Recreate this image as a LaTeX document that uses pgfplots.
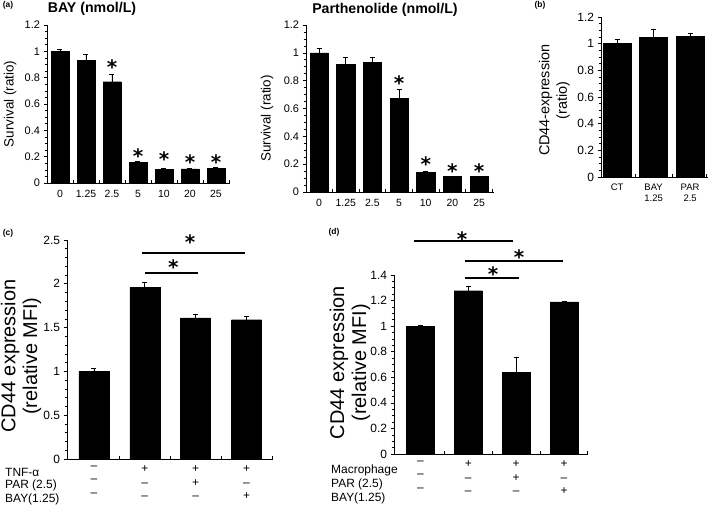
\documentclass[border=0pt]{standalone}
\usepackage{fontspec}
\setmainfont{Liberation Sans}
\newfontfamily\starfont{DejaVu Sans}
\usepackage{pgfplots}
\pgfplotsset{compat=1.18}
\pgfplotsset{
  panel/.style={scale only axis, anchor=south west, axis lines=left,
    axis line style={-, line width=0.7bp}, ybar, ymin=0, enlargelimits=false, clip=false,
    tick align=outside, major tick length=3.5bp, minor tick length=2.5bp,
    every tick/.style={line width=0.6bp, black},
    major x tick style={draw=none}, minor x tick style={yshift=2.5bp},
    /pgf/number format/assume math mode=true,
    ylabel style={align=center, anchor=center}},
  ebar/.style={fill=black, draw=black, error bars/.cd, y dir=plus, y explicit,
    error bar style={line width=0.7bp, black},
    error mark options={rotate=90, mark size=2.5bp, line width=0.7bp, black}},
}
\tikzset{sstar/.style={font=\fontsize{20}{20}\starfont\bfseries, inner sep=0pt, anchor=center, yshift=-4bp}}
\begin{document}
\begin{tikzpicture}[x=1bp,y=1bp]
\useasboundingbox (0,0) rectangle (709,509);

% ---------- (a) BAY ----------
\begin{axis}[panel, at={(47bp,326bp)}, width=183bp, height=158bp,
  xmin=-0.5, xmax=6.54, ymax=1.2, bar width=0.69,
  xtick={0,1,2,3,4,5,6}, xticklabels={0,1.25,2.5,5,10,20,25},
  minor xtick={0.5,1.5,2.5,3.5,4.5,5.5,6.5},
  ytick={0,0.2,0.4,0.6,0.8,1,1.2}, minor y tick num=3,
  yticklabel style={font=\fontsize{11}{13}\selectfont},
  xticklabel style={font=\fontsize{10.5}{12}\selectfont},
  ylabel={Survival (ratio)},
  ylabel style={at={(axis description cs:-0.202,0.5)}, font=\fontsize{13.5}{16}\selectfont}]
\addplot[ebar] coordinates {(0,1.0) +- (0,0.013) (1,0.934) +- (0,0.043) (2,0.769) +- (0,0.056)
  (3,0.155) +- (0,0.008) (4,0.104) +- (0,0.004) (5,0.107) +- (0,0.004) (6,0.109) +- (0,0.008)};
\node[sstar] at (axis cs:2,0.91) {*};
\node[sstar] at (axis cs:3,0.235) {*};
\node[sstar] at (axis cs:4,0.21) {*};
\node[sstar] at (axis cs:5,0.19) {*};
\node[sstar] at (axis cs:6,0.19) {*};
\end{axis}

% ---------- (a) Parthenolide ----------
\begin{axis}[panel, at={(306bp,317bp)}, width=188bp, height=167bp,
  xmin=-0.49, xmax=6.56, ymax=1.2, bar width=0.68,
  xtick={0,1,2,3,4,5,6}, xticklabels={0,1.25,2.5,5,10,20,25},
  minor xtick={0.5,1.5,2.5,3.5,4.5,5.5,6.5},
  ytick={0,0.2,0.4,0.6,0.8,1,1.2}, minor y tick num=3,
  yticklabel style={font=\fontsize{11}{13}\selectfont},
  xticklabel style={font=\fontsize{10.5}{12}\selectfont},
  ylabel={Survival (ratio)},
  ylabel style={at={(axis description cs:-0.207,0.44)}, font=\fontsize{13.5}{16}\selectfont}]
\addplot[ebar] coordinates {(0,1.0) +- (0,0.033) (1,0.918) +- (0,0.05) (2,0.932) +- (0,0.036)
  (3,0.674) +- (0,0.065) (4,0.141) +- (0,0.007) (5,0.112) +- (0,0.002) (6,0.112) +- (0,0.002)};
\node[sstar] at (axis cs:3,0.81) {*};
\node[sstar] at (axis cs:4,0.23) {*};
\node[sstar] at (axis cs:5,0.18) {*};
\node[sstar] at (axis cs:6,0.18) {*};
\end{axis}

% ---------- (b) ----------
\begin{axis}[panel, at={(601bp,332bp)}, width=107bp, height=160bp,
  xmin=-0.44, xmax=2.49, ymax=1.2, bar width=0.77,
  xtick={0,1,2}, xticklabels={{CT},{BAY\\1.25},{PAR\\2.5}},
  minor xtick={0.5,1.5,2.45},
  ytick={0,0.2,0.4,0.6,0.8,1,1.2}, minor y tick num=3,
  yticklabel style={font=\fontsize{12}{14}\selectfont},
  xticklabel style={align=center, font=\fontsize{9.5}{11}\selectfont},
  ylabel={CD44-expression\\(ratio)},
  ylabel style={at={(axis description cs:-0.435,0.48)}, font=\fontsize{14.5}{17.5}\selectfont}]
\addplot[ebar] coordinates {(0,1.0) +- (0,0.03) (1,1.045) +- (0,0.06) (2,1.055) +- (0,0.02)};
\end{axis}

% ---------- (c) ----------
\begin{axis}[panel, at={(67bp,50bp)}, width=206bp, height=219bp,
  xmin=-0.53, xmax=3.52, ymax=2.5, bar width=0.59,
  xtick={0,1,2,3}, xticklabels={{–\\–\\–},{+\\–\\–},{+\\+\\–},{+\\–\\+}},
  minor xtick={0.5,1.5,2.5,3.5},
  ytick={0,0.5,1,1.5,2,2.5}, minor y tick num=4,
  yticklabel style={font=\fontsize{12}{14}\selectfont},
  xticklabel style={align=center, font=\fontsize{12}{13.5}\selectfont},
  ylabel={CD44 expression\\(relative MFI)},
  ylabel style={at={(axis description cs:-0.223,0.47)}, font=\fontsize{20}{22}\selectfont}]
\addplot[ebar] coordinates {(0,1.0) +- (0,0.035) (1,1.96) +- (0,0.06) (2,1.61) +- (0,0.04) (3,1.59) +- (0,0.035)};
\draw[line width=1.6bp] (axis cs:1.0,2.12) -- (axis cs:2.05,2.12);
\draw[line width=1.6bp] (axis cs:0.95,2.35) -- (axis cs:2.97,2.35);
\node[sstar] at (axis cs:1.56,2.24) {*};
\node[sstar] at (axis cs:1.89,2.52) {*};
\end{axis}

% ---------- (d) ----------
\begin{axis}[panel, at={(394bp,55bp)}, width=194bp, height=179bp,
  xmin=-0.55, xmax=3.5, ymax=1.4, bar width=0.585,
  xtick={0,1,2,3}, xticklabels={{–\\–\\–},{+\\–\\–},{+\\+\\–},{+\\–\\+}},
  minor xtick={0.5,1.5,2.5,3.48},
  ytick={0,0.2,0.4,0.6,0.8,1,1.2,1.4}, minor y tick num=3,
  yticklabel style={font=\fontsize{12}{14}\selectfont},
  xticklabel style={align=center, font=\fontsize{12}{13.5}\selectfont},
  ylabel={CD44 expression\\(relative MFI)},
  ylabel style={at={(axis description cs:-0.227,0.51)}, font=\fontsize{20}{22}\selectfont}]
\addplot[ebar] coordinates {(0,1.0) +- (0,0.01) (1,1.277) +- (0,0.033) (2,0.64) +- (0,0.113) (3,1.19) +- (0,0.007)};
\draw[line width=1.6bp] (axis cs:0.93,1.376) -- (axis cs:2.06,1.376);
\draw[line width=1.6bp] (axis cs:0.93,1.51) -- (axis cs:2.98,1.51);
\draw[line width=1.6bp] (axis cs:-0.14,1.665) -- (axis cs:1.94,1.665);
\node[sstar] at (axis cs:1.52,1.44) {*};
\node[sstar] at (axis cs:2.06,1.57) {*};
\node[sstar] at (axis cs:0.87,1.71) {*};
\end{axis}

% ---------- titles and panel letters ----------
\node[font=\fontsize{14.2}{16}\selectfont\bfseries] at (92,500) {BAY (nmol/L)};
\node[font=\fontsize{14.2}{16}\selectfont\bfseries] at (385,499) {Parthenolide (nmol/L)};
\node[font=\fontsize{8.5}{10}\selectfont\bfseries] at (8,504) {(a)};
\node[font=\fontsize{8.5}{10}\selectfont\bfseries] at (540,504) {(b)};
\node[font=\fontsize{8.5}{10}\selectfont\bfseries] at (8,276) {(c)};
\node[font=\fontsize{8.5}{10}\selectfont\bfseries] at (334,277) {(d)};

% ---------- row labels ----------
\node[anchor=west, inner sep=0pt, font=\fontsize{12}{14}\selectfont] at (5,37) {TNF-α};
\node[anchor=west, inner sep=0pt, font=\fontsize{12}{14}\selectfont] at (5,23.5) {PAR (2.5)};
\node[anchor=west, inner sep=0pt, font=\fontsize{12}{14}\selectfont] at (5,10) {BAY(1.25)};
\node[anchor=west, inner sep=0pt, font=\fontsize{12}{14}\selectfont] at (331,39) {Macrophage};
\node[anchor=west, inner sep=0pt, font=\fontsize{12}{14}\selectfont] at (331,24.5) {PAR (2.5)};
\node[anchor=west, inner sep=0pt, font=\fontsize{12}{14}\selectfont] at (331,11) {BAY(1.25)};
\end{tikzpicture}
\end{document}
